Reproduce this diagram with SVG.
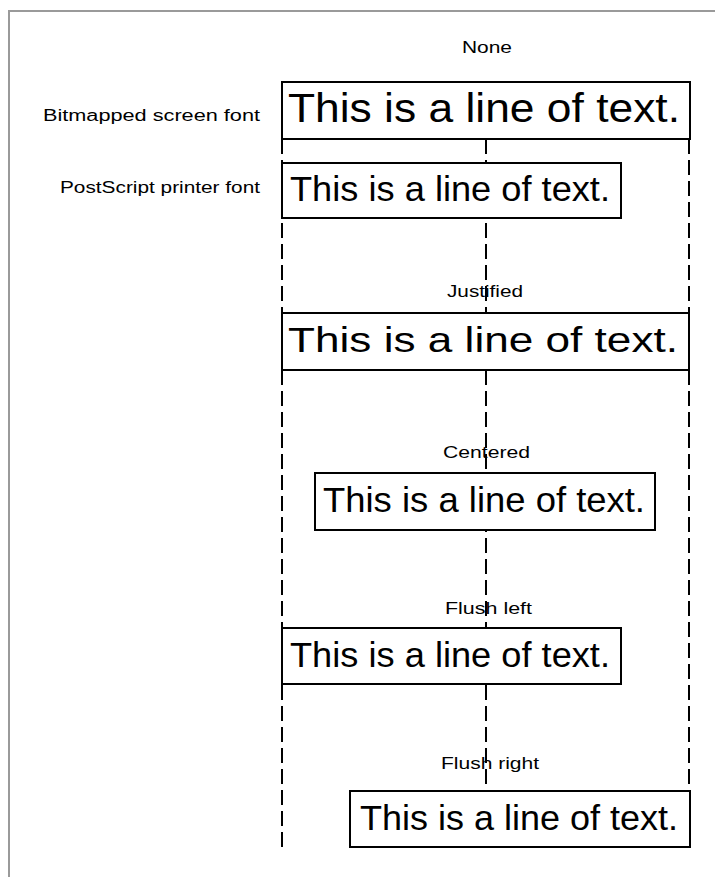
<svg xmlns="http://www.w3.org/2000/svg" width="715" height="877" viewBox="0 0 715 877">
<style>
.frame{fill:none;stroke:#9a9a9a;stroke-width:2}
.guide{fill:none;stroke:#000;stroke-width:2;stroke-dasharray:15 6}
.box{fill:#fff;stroke:#000;stroke-width:2}
.big{font-family:"Liberation Sans",Arial,sans-serif;fill:#000}
.lbl{font-family:"Liberation Sans",Arial,sans-serif;font-size:16px;fill:#000}
</style>
<rect width="715" height="877" fill="#fff"/>
<path class="frame" d="M9,877 V11 H715"/>
<g id="connectors">
<line class="guide" x1="282" y1="139" x2="282" y2="851"/>
<line class="guide" x1="486" y1="139" x2="486" y2="791"/>
<line class="guide" x1="689" y1="139" x2="689" y2="791"/>
</g>
<g id="label-none"><text class="lbl" x="462" y="53" textLength="50" lengthAdjust="spacingAndGlyphs">None</text></g>
<g id="label-bitmapped"><text class="lbl" x="43" y="121" textLength="217" lengthAdjust="spacingAndGlyphs">Bitmapped screen font</text></g>
<g id="label-postscript"><text class="lbl" x="60" y="193" textLength="200" lengthAdjust="spacingAndGlyphs">PostScript printer font</text></g>
<g id="box-none">
<rect class="box" x="282" y="82" width="408" height="57"/>
<text class="big" x="288" y="122" font-size="41" textLength="392" lengthAdjust="spacingAndGlyphs">This is a line of text.</text>
</g>
<g id="box-postscript">
<rect class="box" x="282" y="163" width="339" height="55"/>
<text class="big" x="290" y="201" font-size="35" textLength="320" lengthAdjust="spacingAndGlyphs">This is a line of text.</text>
</g>
<g id="label-justified"><text class="lbl" x="447" y="297" textLength="76" lengthAdjust="spacingAndGlyphs">Justified</text></g>
<g id="box-justified">
<rect class="box" x="282" y="313" width="407" height="57"/>
<text class="big" x="288" y="352" font-size="35" textLength="390" lengthAdjust="spacingAndGlyphs">This is a line of text.</text>
</g>
<g id="label-centered"><text class="lbl" x="443" y="458" textLength="87" lengthAdjust="spacingAndGlyphs">Centered</text></g>
<g id="box-centered">
<rect class="box" x="315" y="473" width="340" height="57"/>
<text class="big" x="323" y="512" font-size="35" textLength="322" lengthAdjust="spacingAndGlyphs">This is a line of text.</text>
</g>
<g id="label-flushleft"><text class="lbl" x="445" y="614" textLength="87" lengthAdjust="spacingAndGlyphs">Flush left</text></g>
<g id="box-flushleft">
<rect class="box" x="282" y="628" width="339" height="56"/>
<text class="big" x="290" y="667" font-size="35" textLength="320" lengthAdjust="spacingAndGlyphs">This is a line of text.</text>
</g>
<g id="label-flushright"><text class="lbl" x="441" y="769" textLength="98" lengthAdjust="spacingAndGlyphs">Flush right</text></g>
<g id="box-flushright">
<rect class="box" x="350" y="791" width="340" height="56"/>
<text class="big" x="360" y="830" font-size="35" textLength="318" lengthAdjust="spacingAndGlyphs">This is a line of text.</text>
</g>
</svg>
